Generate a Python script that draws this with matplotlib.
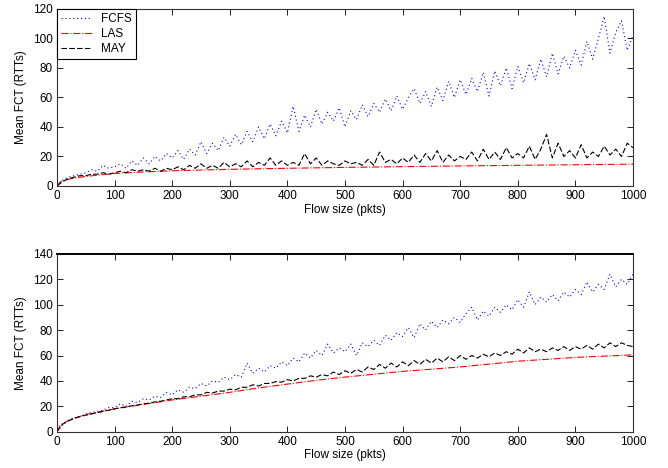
import matplotlib
matplotlib.use('Agg')
import matplotlib.pyplot as plt

plt.rcParams['font.family'] = ['Liberation Sans', 'DejaVu Sans']
plt.rcParams['font.size'] = 8.5

# x positions of the sampled flow sizes (pkts)
sizes = list(range(0, 1001, 10))

# top panel
top_fcfs = [0, 4, 6, 7, 8, 9, 11, 10, 14, 12,
            13, 15, 12, 17, 14, 19, 15, 20, 17, 22,
            19, 24, 18, 25, 21, 30, 22, 29, 24, 33,
            27, 35, 28, 37, 30, 40, 32, 42, 34, 44,
            36, 54, 37, 48, 40, 52, 42, 50, 44, 53,
            40, 51, 45, 55, 47, 56, 50, 59, 51, 61,
            52, 60, 66, 56, 64, 54, 67, 58, 71, 60,
            72, 62, 73, 64, 77, 61, 78, 68, 80, 66,
            81, 70, 83, 72, 86, 74, 90, 76, 88, 80,
            92, 82, 98, 86, 100, 115, 90, 104, 112, 92,
            102]
top_may = [0, 3, 5, 6, 7, 7, 8, 8, 9, 8,
           9, 10, 9, 11, 10, 11, 10, 12, 10, 12,
           11, 13, 11, 14, 12, 15, 12, 14, 12, 16,
           13, 15, 13, 17, 13, 16, 14, 19, 14, 17,
           14, 16, 14, 22, 15, 19, 14, 17, 15, 14,
           17, 15, 16, 14, 18, 14, 23, 16, 18, 15,
           19, 16, 21, 16, 22, 17, 24, 16, 21, 17,
           20, 18, 23, 17, 25, 18, 23, 18, 26, 19,
           22, 19, 27, 18, 25, 35, 19, 29, 20, 24,
           19, 28, 19, 23, 20, 27, 21, 25, 20, 29,
           26]
top_las_x = [0, 5, 10, 25, 50, 100, 150, 200, 300, 400, 500, 600, 700, 800, 900, 1000]
top_las = [0, 2.5, 3.5, 5, 6.5, 8.5, 9.5, 10.3, 11.3, 12, 12.6, 13.1, 13.6, 14, 14.4, 14.8]

# bottom panel
bot_fcfs = [0, 6, 9, 11, 12, 14, 15, 16, 17, 19,
            19, 22, 20, 24, 23, 26, 25, 28, 27, 31,
            29, 33, 31, 35, 34, 38, 36, 40, 39, 43,
            41, 45, 43, 54, 46, 50, 47, 52, 50, 55,
            52, 58, 55, 62, 58, 64, 60, 69, 62, 66,
            63, 69, 60, 70, 67, 72, 68, 76, 72, 78,
            75, 82, 74, 85, 80, 87, 82, 88, 85, 90,
            86, 93, 98, 88, 95, 91, 98, 94, 100, 96,
            104, 98, 110, 100, 106, 102, 108, 103, 110, 106,
            112, 108, 118, 110, 116, 112, 124, 114, 120, 116,
            124]
bot_may = [0, 6, 8.5, 10.5, 12, 13, 14, 15, 16, 17,
           18, 19, 19.5, 20.5, 21, 22, 22.5, 23.5, 24, 25,
           26, 26, 27.5, 27.5, 29, 29, 31, 30.5, 32, 32,
           33.5, 33, 35, 35, 37, 36, 38, 38, 39.5, 39,
           41, 40, 42, 42, 44, 43, 45, 44, 47, 45,
           48, 46, 49, 47, 51, 49, 53, 50, 54, 51,
           55, 52, 56, 53, 57, 54, 58, 55, 59, 56,
           60, 57, 60, 58, 61, 59, 62, 60, 63, 61,
           65, 62, 66, 63, 65, 63, 66, 64, 67, 64,
           67, 65, 68, 65, 69, 66, 70, 67, 70, 68,
           67]
bot_las_x = [0, 5, 10, 25, 50, 100, 150, 200, 250, 300, 350, 400, 450, 500, 600, 700, 800, 900, 1000]
bot_las = [0, 4.5, 6.5, 10, 13.5, 18, 21.5, 25, 28, 31, 34.5, 37.5, 40.5, 43, 47.5, 51, 55.5, 58.5, 60.5]

x_ticks = list(range(0, 1001, 100))


def style_axes(ax, ymax, ystep):
    ax.set_xlim(0, 1000)
    ax.set_ylim(0, ymax)
    ax.set_xticks(x_ticks)
    ax.set_yticks(list(range(0, ymax + 1, ystep)))
    ax.tick_params(direction='in', top=True, right=True, length=4, width=0.6, pad=3)
    for s in ax.spines.values():
        s.set_linewidth(0.8)
        s.set_color('#333333')
    ax.set_xlabel('Flow size (pkts)', labelpad=1)
    ax.set_ylabel('Mean FCT (RTTs)', labelpad=4)


fig = plt.figure(figsize=(6.68, 4.68), dpi=100)
ax1 = fig.add_axes([0.0853, 0.6026, 0.8623, 0.3782])
ax2 = fig.add_axes([0.0853, 0.0775, 0.8623, 0.3800])

ax1.plot(sizes, top_fcfs, color='blue', linestyle=':', linewidth=0.8, dashes=(1, 2.5), label='FCFS')
ax1.plot(top_las_x, top_las, color='red', linestyle='-.', linewidth=0.8, label='LAS')
ax1.plot(sizes, top_may, color='black', linestyle='--', linewidth=0.8, dashes=(5, 2), label='MAY')
style_axes(ax1, 120, 20)
leg = ax1.legend(loc='upper left', borderaxespad=0, fancybox=False, framealpha=1,
                 edgecolor='black', handlelength=2.6, borderpad=0.35, labelspacing=0.25,
                 handletextpad=0.8)
leg.get_frame().set_linewidth(0.8)

ax2.plot(sizes, bot_fcfs, color='blue', linestyle=':', linewidth=0.8, dashes=(1, 2.5))
ax2.plot(bot_las_x, bot_las, color='red', linestyle='-.', linewidth=0.8)
ax2.plot(sizes, bot_may, color='black', linestyle='--', linewidth=0.8, dashes=(5, 2))
style_axes(ax2, 140, 20)
ax2.spines['top'].set_linewidth(1.4)
ax2.spines['top'].set_color('black')

fig.savefig('out.png', dpi=100)
